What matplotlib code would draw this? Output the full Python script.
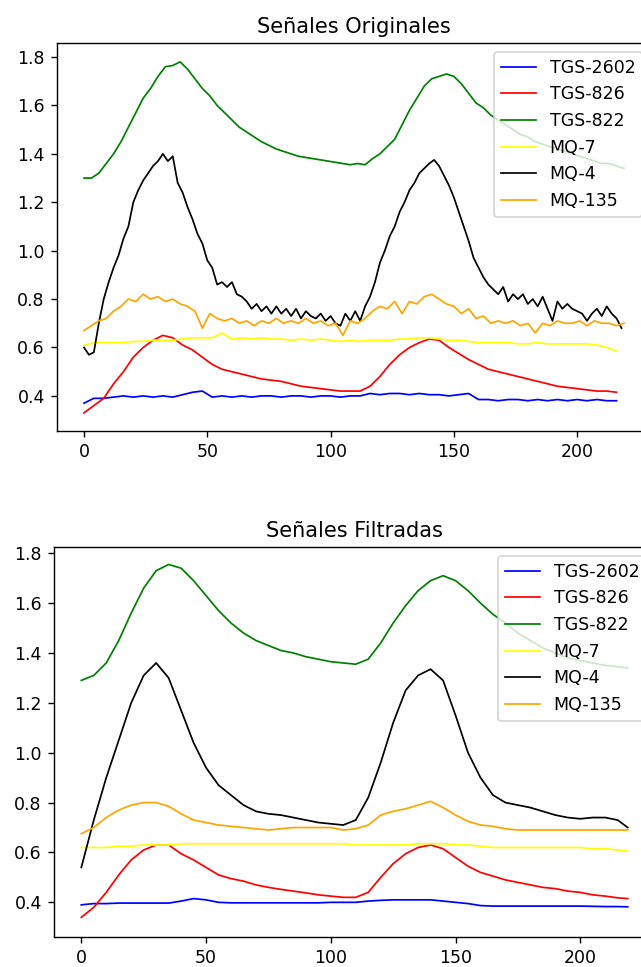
import numpy as np
import matplotlib
matplotlib.use('Agg')
import matplotlib.pyplot as plt

# sample indices
x_orig_2 = np.arange(0, 220, 2)
x_orig_3 = np.arange(0, 220, 3)
x_orig_4 = np.arange(0, 220, 4)
x_filt = np.array(list(range(0, 220, 5)) + [219])

labels = ['TGS-2602', 'TGS-826', 'TGS-822', 'MQ-7', 'MQ-4', 'MQ-135']
colors = ['blue', 'red', 'green', 'yellow', 'black', 'orange']

# ---- original signals
tgs2602_orig = [0.37, 0.39, 0.39, 0.395, 0.40, 0.395, 0.40, 0.395, 0.40, 0.395,
                0.405, 0.415, 0.42, 0.395, 0.40, 0.395, 0.40, 0.395, 0.40, 0.40,
                0.395, 0.40, 0.40, 0.395, 0.40, 0.40, 0.395, 0.40, 0.40, 0.41,
                0.405, 0.41, 0.41, 0.405, 0.41, 0.405, 0.405, 0.40, 0.405, 0.41,
                0.385, 0.385, 0.38, 0.385, 0.385, 0.38, 0.385, 0.38, 0.385, 0.38,
                0.385, 0.38, 0.385, 0.38, 0.38]
tgs826_orig = [0.33, 0.36, 0.39, 0.45, 0.50, 0.56, 0.60, 0.63, 0.65, 0.64,
               0.61, 0.59, 0.56, 0.53, 0.51, 0.50, 0.49, 0.48, 0.47, 0.465,
               0.46, 0.45, 0.44, 0.435, 0.43, 0.425, 0.42, 0.42, 0.42, 0.44,
               0.48, 0.53, 0.57, 0.60, 0.62, 0.635, 0.63, 0.60, 0.575, 0.55,
               0.53, 0.51, 0.50, 0.49, 0.48, 0.47, 0.46, 0.45, 0.44, 0.435,
               0.43, 0.425, 0.42, 0.42, 0.415]
tgs822_orig = [1.30, 1.30, 1.32, 1.36, 1.40, 1.45, 1.51, 1.57, 1.63, 1.67,
               1.72, 1.76, 1.765, 1.78, 1.75, 1.71, 1.67, 1.64, 1.60, 1.57,
               1.54, 1.51, 1.49, 1.47, 1.45, 1.435, 1.42, 1.41, 1.40, 1.39,
               1.385, 1.38, 1.375, 1.37, 1.365, 1.36, 1.355, 1.36, 1.355, 1.38,
               1.40, 1.43, 1.46, 1.52, 1.58, 1.63, 1.68, 1.71, 1.72, 1.73,
               1.72, 1.69, 1.65, 1.61, 1.59, 1.56, 1.54, 1.52, 1.50, 1.48,
               1.47, 1.45, 1.44, 1.43, 1.42, 1.41, 1.40, 1.39, 1.38, 1.37,
               1.36, 1.36, 1.35, 1.34]
mq7_orig = [0.61, 0.62, 0.62, 0.62, 0.62, 0.625, 0.625, 0.63, 0.63, 0.63,
            0.635, 0.64, 0.64, 0.64, 0.66, 0.635, 0.64, 0.635, 0.64, 0.635,
            0.635, 0.63, 0.635, 0.63, 0.635, 0.63, 0.625, 0.63, 0.625, 0.63,
            0.63, 0.63, 0.635, 0.635, 0.64, 0.64, 0.635, 0.63, 0.63, 0.625,
            0.62, 0.62, 0.62, 0.62, 0.615, 0.615, 0.62, 0.615, 0.615, 0.615,
            0.615, 0.615, 0.61, 0.60, 0.585]
mq4_orig = [0.60, 0.57, 0.58, 0.70, 0.80, 0.87, 0.93, 0.98, 1.05, 1.10,
            1.20, 1.25, 1.29, 1.32, 1.35, 1.37, 1.40, 1.37, 1.39, 1.28,
            1.24, 1.18, 1.13, 1.07, 1.03, 0.96, 0.93, 0.86, 0.87, 0.85,
            0.87, 0.82, 0.81, 0.79, 0.76, 0.78, 0.75, 0.77, 0.74, 0.77,
            0.74, 0.76, 0.73, 0.76, 0.72, 0.75, 0.73, 0.72, 0.74, 0.71,
            0.73, 0.70, 0.69, 0.74, 0.71, 0.75, 0.71, 0.77, 0.81, 0.87,
            0.95, 1.00, 1.06, 1.10, 1.16, 1.20, 1.25, 1.28, 1.32, 1.34,
            1.36, 1.375, 1.35, 1.31, 1.27, 1.22, 1.16, 1.10, 1.04, 0.97,
            0.93, 0.89, 0.86, 0.84, 0.82, 0.85, 0.79, 0.82, 0.80, 0.82,
            0.78, 0.80, 0.77, 0.81, 0.76, 0.71, 0.79, 0.76, 0.78, 0.76,
            0.75, 0.74, 0.71, 0.74, 0.76, 0.73, 0.77, 0.74, 0.72, 0.68]
mq135_orig = [0.67, 0.69, 0.71, 0.72, 0.75, 0.77, 0.80, 0.79, 0.82, 0.80,
              0.81, 0.79, 0.80, 0.78, 0.77, 0.75, 0.68, 0.74, 0.72, 0.71,
              0.72, 0.70, 0.71, 0.69, 0.71, 0.70, 0.72, 0.70, 0.71, 0.70,
              0.72, 0.70, 0.71, 0.69, 0.70, 0.65, 0.71, 0.70, 0.72, 0.75,
              0.77, 0.76, 0.79, 0.74, 0.79, 0.78, 0.81, 0.82, 0.80, 0.78,
              0.77, 0.74, 0.76, 0.72, 0.73, 0.70, 0.71, 0.70, 0.71, 0.69,
              0.70, 0.66, 0.70, 0.69, 0.71, 0.70, 0.70, 0.71, 0.69, 0.71,
              0.70, 0.70, 0.69, 0.70]

# ---- filtered signals
tgs2602_filt = [0.39, 0.395, 0.395, 0.397, 0.397, 0.397, 0.397, 0.397, 0.405, 0.415,
                0.41, 0.40, 0.398, 0.398, 0.398, 0.398, 0.398, 0.398, 0.398, 0.398,
                0.40, 0.40, 0.40, 0.405, 0.408, 0.41, 0.41, 0.41, 0.41, 0.405,
                0.40, 0.395, 0.387, 0.385, 0.385, 0.385, 0.385, 0.385, 0.385, 0.385,
                0.385, 0.384, 0.383, 0.383, 0.382]
tgs826_filt = [0.34, 0.38, 0.44, 0.51, 0.57, 0.61, 0.63, 0.63, 0.595, 0.57,
               0.54, 0.51, 0.495, 0.485, 0.47, 0.46, 0.452, 0.445, 0.438, 0.43,
               0.425, 0.42, 0.42, 0.44, 0.50, 0.555, 0.595, 0.62, 0.63, 0.615,
               0.58, 0.545, 0.52, 0.505, 0.49, 0.48, 0.47, 0.46, 0.455, 0.445,
               0.44, 0.43, 0.425, 0.418, 0.415]
tgs822_filt = [1.29, 1.31, 1.36, 1.45, 1.56, 1.66, 1.73, 1.755, 1.74, 1.69,
               1.63, 1.57, 1.52, 1.48, 1.45, 1.43, 1.41, 1.40, 1.385, 1.375,
               1.365, 1.36, 1.355, 1.375, 1.44, 1.52, 1.59, 1.65, 1.69, 1.71,
               1.69, 1.65, 1.60, 1.555, 1.52, 1.48, 1.45, 1.42, 1.40, 1.38,
               1.37, 1.36, 1.35, 1.345, 1.34]
mq7_filt = [0.62, 0.62, 0.62, 0.625, 0.625, 0.63, 0.63, 0.63, 0.635, 0.635,
            0.635, 0.635, 0.635, 0.635, 0.635, 0.635, 0.635, 0.635, 0.635, 0.635,
            0.635, 0.635, 0.63, 0.63, 0.63, 0.63, 0.63, 0.635, 0.635, 0.635,
            0.63, 0.63, 0.625, 0.62, 0.62, 0.62, 0.62, 0.62, 0.62, 0.62,
            0.62, 0.615, 0.615, 0.61, 0.605]
mq4_filt = [0.54, 0.73, 0.90, 1.05, 1.20, 1.31, 1.36, 1.30, 1.17, 1.04,
            0.94, 0.87, 0.83, 0.79, 0.765, 0.755, 0.75, 0.74, 0.73, 0.72,
            0.715, 0.71, 0.73, 0.82, 0.96, 1.12, 1.25, 1.31, 1.335, 1.29,
            1.15, 1.00, 0.90, 0.83, 0.80, 0.79, 0.78, 0.765, 0.75, 0.74,
            0.735, 0.74, 0.74, 0.73, 0.70]
mq135_filt = [0.675, 0.70, 0.74, 0.77, 0.79, 0.80, 0.80, 0.785, 0.755, 0.73,
              0.72, 0.71, 0.705, 0.70, 0.695, 0.69, 0.695, 0.70, 0.70, 0.70,
              0.70, 0.69, 0.695, 0.71, 0.75, 0.765, 0.775, 0.79, 0.805, 0.78,
              0.75, 0.725, 0.71, 0.705, 0.695, 0.69, 0.69, 0.69, 0.69, 0.69,
              0.69, 0.69, 0.69, 0.69, 0.69]

orig = [(x_orig_4, tgs2602_orig), (x_orig_4, tgs826_orig), (x_orig_3, tgs822_orig),
        (x_orig_4, mq7_orig), (x_orig_2, mq4_orig), (x_orig_3, mq135_orig)]
filt = [tgs2602_filt, tgs826_filt, tgs822_filt, mq7_filt, mq4_filt, mq135_filt]

fig = plt.figure(figsize=(641 / 125, 967 / 125), dpi=125)

#Original
ax1 = fig.add_axes([57 / 641, 1 - 431 / 967, 594 / 641, 388 / 967])
for (xs, ys), c, lab in zip(orig, colors, labels):
    ax1.plot(xs, ys, color=c, label=lab, linewidth=1.0)
ax1.set_ylim(0.255, 1.858)
ax1.set_title('Señales Originales')
ax1.legend(loc='upper right')

#Filtered
ax2 = fig.add_axes([54 / 641, 1 - 937 / 967, 601 / 641, 390 / 967])
for ys, c, lab in zip(filt, colors, labels):
    ax2.plot(x_filt, ys, color=c, label=lab, linewidth=1.0)
ax2.set_ylim(0.261, 1.825)
ax2.set_title('Señales Filtradas')
ax2.legend(loc='upper right')

fig.savefig('out.png', dpi=125)
